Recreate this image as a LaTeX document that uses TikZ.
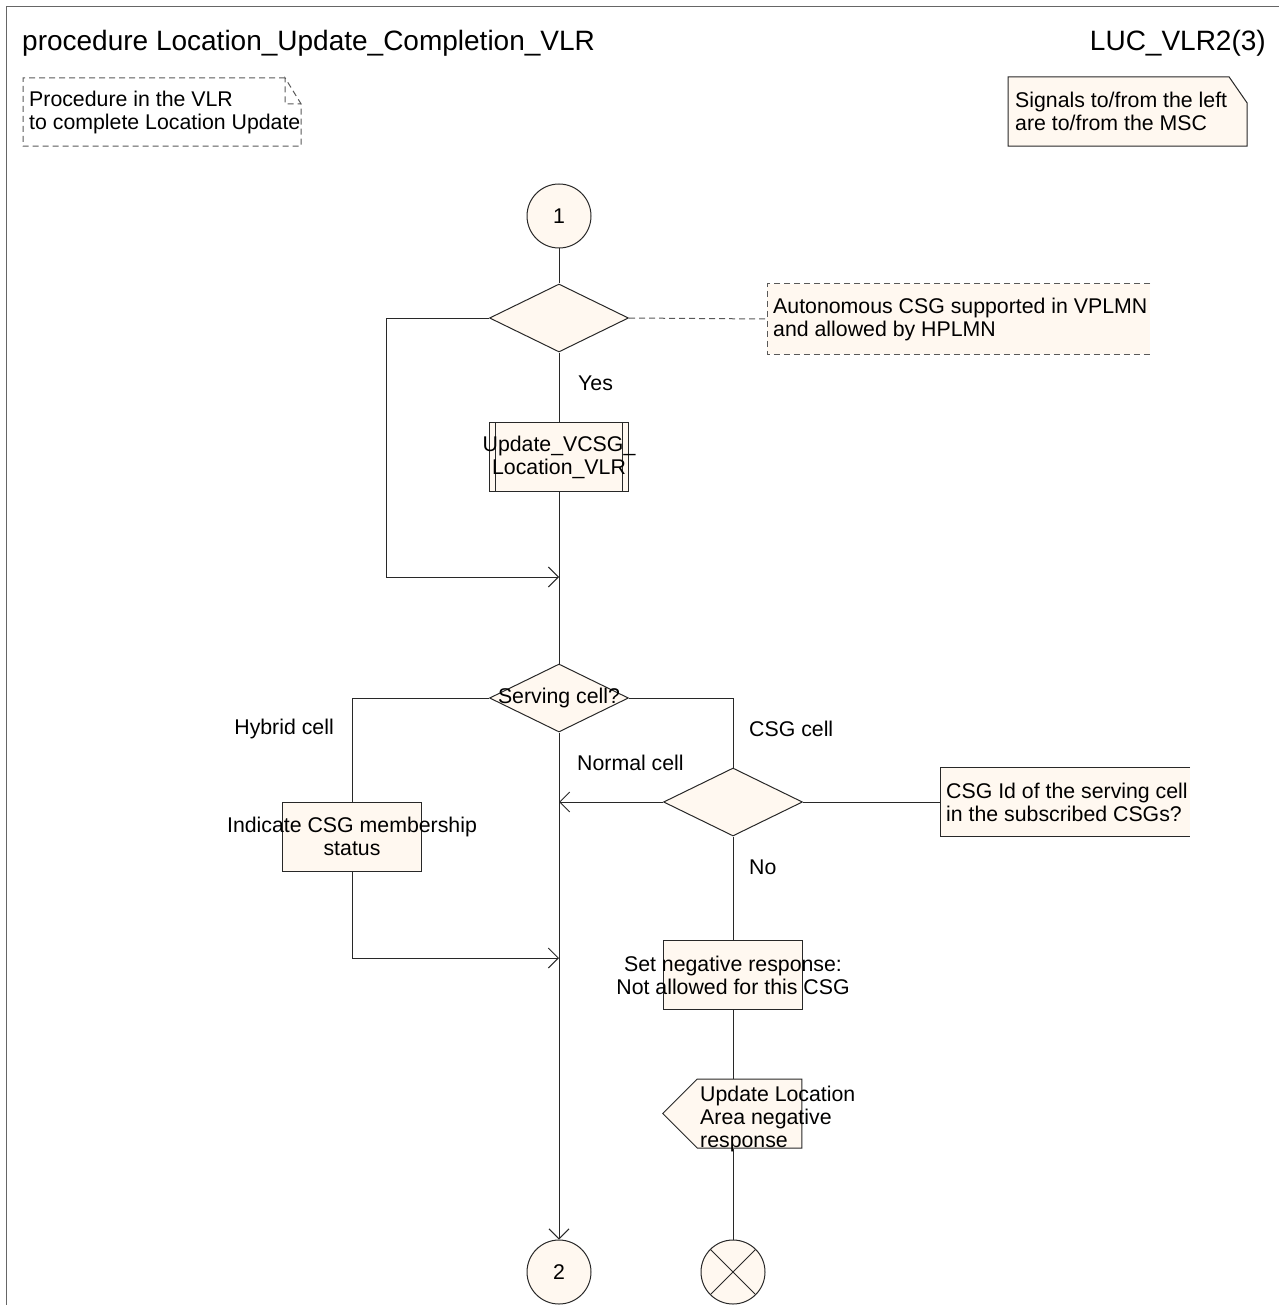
\documentclass[tikz,border=0pt]{standalone}
\usepackage{fontspec}
\setmainfont{Liberation Sans}
\usetikzlibrary{shapes.geometric, shapes.symbols, arrows.meta, backgrounds}
\definecolor{sdlfill}{RGB}{255,248,240}
\definecolor{sdlline}{RGB}{40,40,40}

\begin{document}
\begin{tikzpicture}[x=1pt, y=-1pt,
font=\fontsize{21.3}{23}\selectfont,
line/.style={draw=sdlline, line width=1pt},
dashline/.style={line, draw=black!65, dash pattern=on 6pt off 4pt},
flow/.style={line, -{Straight Barb[length=10pt, width=20pt]}},
lbl/.style={inner sep=0pt},
decision/.style={shape=diamond, line, fill=sdlfill, minimum width=139pt,
    minimum height=68pt, inner sep=0pt},
task/.style={rectangle, line, fill=sdlfill, minimum width=139pt,
    minimum height=69pt, inner sep=0pt},
proc/.style={task, path picture={
    \draw[line] ([xshift=6pt]path picture bounding box.north west) -- ([xshift=6pt]path picture bounding box.south west)
    ([xshift=-6pt]path picture bounding box.north east) -- ([xshift=-6pt]path picture bounding box.south east);}},
connector/.style={circle, line, fill=sdlfill, minimum size=64pt, inner sep=0pt},
stopsym/.style={connector, path picture={
    \draw[line] (path picture bounding box.north west) -- (path picture bounding box.south east)
    (path picture bounding box.north east) -- (path picture bounding box.south west);}},
outsig/.style={shape=signal, signal to=west, signal from=nowhere, signal pointer angle=90,
    line, fill=sdlfill, minimum width=139pt, minimum height=69pt, inner sep=0pt},
comment/.style={rectangle, anchor=west, align=left, inner xsep=6pt, inner ysep=0pt}]
\useasboundingbox (0,0) rectangle (1279,1305);
\draw[line, draw=black!60] (6,1305) -- (6,7) -- (1279,7);

% header
\node[lbl, anchor=base west, font=\fontsize{28}{30}\selectfont] (title) at (22,51) {procedure Location\_Update\_Completion\_VLR};
\node[lbl, anchor=base east, font=\fontsize{28}{30}\selectfont] (page) at (1266,51) {LUC\_VLR2(3)};

\node[comment, minimum height=68pt] (intro) at (23,112) {Procedure in the VLR\\to complete Location Update};
\draw[dashline] ([xshift=262pt]intro.north west) -- (intro.north west) -- (intro.south west) -- ([xshift=278pt]intro.south west)
    -- ([xshift=278pt, yshift=-26pt]intro.north west) -- ([xshift=262pt]intro.north west)
    -- ([xshift=262pt, yshift=-26pt]intro.north west) -- ([xshift=278pt, yshift=-26pt]intro.north west);

\node[comment, inner xsep=7pt, minimum height=69pt] (msc) at (1008,111.5) {Signals to/from the left\\are to/from the MSC};
\begin{scope}[on background layer]
\filldraw[line, fill=sdlfill] (msc.north west) -- ([xshift=221pt]msc.north west) -- ([xshift=239pt, yshift=-26pt]msc.north west)
    -- ([xshift=239pt]msc.south west) -- (msc.south west) -- cycle;
\end{scope}

% flow
\node[connector] (c1) at (559,216) {1};
\node[decision] (d1) at (559,318) {};
\node[comment, minimum height=70pt] (cm1) at (767,319) {Autonomous CSG supported in VPLMN\\and allowed by HPLMN};
\begin{scope}[on background layer]
\fill[sdlfill] (cm1.north west) rectangle ([xshift=383pt]cm1.south west);
\end{scope}
\draw[dashline] ([xshift=383pt]cm1.north west) -- (cm1.north west) -- (cm1.south west) -- ([xshift=383pt]cm1.south west);
\node[proc, label={[align=center]center:Update\_VCSG\_\\Location\_VLR}] (upd) at (559,457) {};
\coordinate (m1) at (559,577);
\node[decision, label=center:Serving cell?] (d2) at (559,698) {};
\node[task, label={[align=center]center:Indicate CSG membership\\status}] (ind) at (352,836.5) {};
\node[decision] (d3) at (733,802) {};
\node[comment, minimum height=68pt] (cm2) at (940,802) {CSG Id of the serving cell\\in the subscribed CSGs?};
\begin{scope}[on background layer]
\fill[sdlfill] (cm2.north west) rectangle ([xshift=250pt]cm2.south west);
\end{scope}
\draw[line] ([xshift=250pt]cm2.north west) -- (cm2.north west) -- (cm2.south west) -- ([xshift=250pt]cm2.south west);
\coordinate (m2) at (559,958);
\node[task, label={[align=center]center:Set negative response:\\Not allowed for this CSG}] (neg) at (733,975) {};
\node[outsig] (ula) at (749.5,1113.5) {};
\node[lbl, align=left, anchor=north west] (ulatxt) at (700,1086) {Update Location\\Area negative\\response};
\node[connector] (c2) at (559,1272) {2};
\node[stopsym] (stop) at (733,1272) {};

\draw[line] (c1) -- (d1);
\draw[dashline] (d1.east) -- (cm1.west);
\draw[line] (d1.south) -- (upd.north);
\draw[flow] (d1.west) -- ++(-103,0) |- (m1);
\draw[line] (upd.south) -- (d2.north);
\draw[line] (d2.west) -| (ind.north);
\draw[line] (d2.east) -| (d3.north);
\draw[flow] (d2.south) -- (c2.north);
\draw[flow] (d3.west) -- (d3.west -| d2.south);
\draw[line] (d3.east) -- (cm2.west);
\draw[flow] (ind.south) |- (m2);
\draw[line] (d3.south) -- (neg.north);
\draw[line] (neg.south) -- (neg.south |- ula.north);
\draw[line] (stop.north |- ula.south) -- (stop.north);

% branch labels
\node[lbl, anchor=west] (yes) at (578,383) {Yes};
\node[lbl, anchor=east] (hyb) at (334,729) {Hybrid cell};
\node[lbl, anchor=west] (csg) at (749,729) {CSG cell};
\node[lbl, anchor=west] (nrm) at (577,763) {Normal cell};
\node[lbl, anchor=west] (no) at (749,867) {No};
\end{tikzpicture}
\end{document}
